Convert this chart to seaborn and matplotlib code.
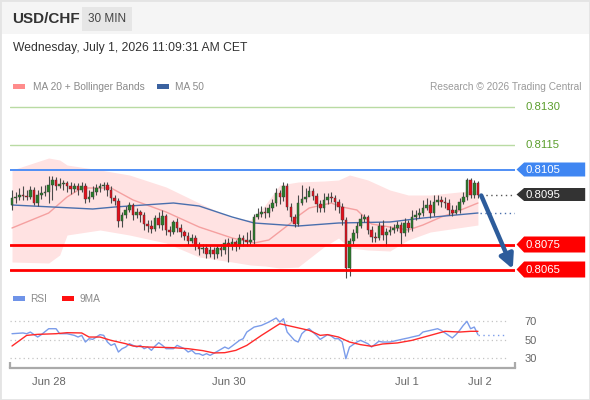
import numpy as np
import pandas as pd
import matplotlib
matplotlib.use("Agg")
import matplotlib.pyplot as plt
from matplotlib.patches import Polygon, Rectangle, FancyArrowPatch
import seaborn as sns

W, H = 590, 400

# velas de 30 min USD/CHF
first_open = 0.80908
closes = [0.80936, 0.80940, 0.80948, 0.80944, 0.80940, 0.80968, 0.80916, 0.80948, 0.80956, 0.80960,
          0.80988, 0.81008, 0.80984, 0.80992, 0.80996, 0.80984, 0.80972, 0.80984, 0.80968, 0.80984,
          0.80932, 0.80940, 0.80960, 0.80976, 0.80984, 0.80988, 0.80968, 0.80936, 0.80924, 0.80844,
          0.80868, 0.80888, 0.80908, 0.80868, 0.80880, 0.80868, 0.80832, 0.80824, 0.80812, 0.80856,
          0.80828, 0.80864, 0.80808, 0.80800, 0.80840, 0.80816, 0.80800, 0.80784, 0.80764, 0.80776,
          0.80744, 0.80732, 0.80736, 0.80712, 0.80728, 0.80712, 0.80736, 0.80728, 0.80756, 0.80744,
          0.80760, 0.80744, 0.80776, 0.80768, 0.80760, 0.80768, 0.80860, 0.80872, 0.80880, 0.80876,
          0.80896, 0.80916, 0.80956, 0.80940, 0.80984, 0.80900, 0.80860, 0.80832, 0.80916, 0.80932,
          0.80940, 0.80964, 0.80944, 0.80912, 0.80896, 0.80928, 0.80940, 0.80936, 0.80920, 0.80900,
          0.80848, 0.80656, 0.80764, 0.80796, 0.80824, 0.80852, 0.80860, 0.80808, 0.80780, 0.80776,
          0.80824, 0.80788, 0.80800, 0.80808, 0.80816, 0.80828, 0.80796, 0.80836, 0.80816, 0.80860,
          0.80868, 0.80876, 0.80896, 0.80908, 0.80876, 0.80920, 0.80928, 0.80920, 0.80916, 0.80888,
          0.80876, 0.80888, 0.80920, 0.80940, 0.81008, 0.80948, 0.80996, 0.80950]
highs = [0.80968, 0.80960, 0.80976, 0.80984, 0.80968, 0.80984, 0.80980, 0.80968, 0.80984, 0.80988,
         0.81024, 0.81024, 0.81020, 0.81016, 0.81008, 0.81004, 0.81000, 0.80996, 0.80996, 0.81000,
         0.80996, 0.80968, 0.80984, 0.80992, 0.80996, 0.81000, 0.81000, 0.80984, 0.80948, 0.80936,
         0.80880, 0.80904, 0.80920, 0.80916, 0.80896, 0.80888, 0.80880, 0.80848, 0.80848, 0.80868,
         0.80880, 0.80888, 0.80872, 0.80824, 0.80848, 0.80856, 0.80832, 0.80808, 0.80800, 0.80792,
         0.80788, 0.80760, 0.80752, 0.80752, 0.80744, 0.80740, 0.80748, 0.80752, 0.80772, 0.80776,
         0.80776, 0.80768, 0.80792, 0.80788, 0.80800, 0.80808, 0.80872, 0.80896, 0.80904, 0.80900,
         0.80912, 0.80932, 0.80976, 0.80968, 0.81000, 0.80996, 0.80916, 0.80872, 0.80948, 0.80988,
         0.80976, 0.80984, 0.80976, 0.80956, 0.80928, 0.80956, 0.80956, 0.80960, 0.80948, 0.80932,
         0.80916, 0.80860, 0.80776, 0.80812, 0.80840, 0.80872, 0.80872, 0.80868, 0.80824, 0.80800,
         0.80840, 0.80848, 0.80816, 0.80824, 0.80832, 0.80844, 0.80840, 0.80856, 0.80848, 0.80888,
         0.80888, 0.80896, 0.80928, 0.80936, 0.80928, 0.80948, 0.80948, 0.80944, 0.80940, 0.80932,
         0.80908, 0.80908, 0.80936, 0.80960, 0.81016, 0.81016, 0.81008, 0.81004]
lows = [0.80888, 0.80916, 0.80928, 0.80928, 0.80928, 0.80932, 0.80908, 0.80904, 0.80932, 0.80944,
        0.80916, 0.80928, 0.80968, 0.80976, 0.80968, 0.80960, 0.80952, 0.80960, 0.80948, 0.80960,
        0.80916, 0.80920, 0.80932, 0.80948, 0.80960, 0.80968, 0.80944, 0.80916, 0.80908, 0.80820,
        0.80820, 0.80856, 0.80880, 0.80848, 0.80856, 0.80840, 0.80808, 0.80800, 0.80796, 0.80804,
        0.80816, 0.80808, 0.80788, 0.80784, 0.80792, 0.80800, 0.80780, 0.80768, 0.80748, 0.80756,
        0.80728, 0.80708, 0.80716, 0.80696, 0.80700, 0.80692, 0.80696, 0.80704, 0.80712, 0.80680,
        0.80728, 0.80724, 0.80732, 0.80744, 0.80744, 0.80748, 0.80752, 0.80852, 0.80860, 0.80856,
        0.80860, 0.80884, 0.80904, 0.80912, 0.80924, 0.80888, 0.80844, 0.80820, 0.80824, 0.80908,
        0.80920, 0.80944, 0.80928, 0.80880, 0.80880, 0.80880, 0.80912, 0.80920, 0.80888, 0.80876,
        0.80828, 0.80616, 0.80624, 0.80752, 0.80776, 0.80816, 0.80840, 0.80792, 0.80760, 0.80760,
        0.80768, 0.80768, 0.80744, 0.80788, 0.80796, 0.80804, 0.80744, 0.80784, 0.80800, 0.80804,
        0.80848, 0.80856, 0.80864, 0.80888, 0.80856, 0.80864, 0.80908, 0.80900, 0.80896, 0.80868,
        0.80864, 0.80872, 0.80876, 0.80912, 0.80928, 0.80936, 0.80936, 0.80936]

# Bollinger (20) y medias, puntos leidos sobre el indice de vela
band_idx = [0, 10, 13, 15, 24, 32, 42, 51, 60, 65, 69, 73, 78, 85, 89, 92, 97, 103, 108, 114, 127]
band_up = [0.81048, 0.81096, 0.81088, 0.81068, 0.81048, 0.81028, 0.80980, 0.80916, 0.80856, 0.80848, 0.80908,
           0.80988, 0.81000, 0.81004, 0.81008, 0.81028, 0.81008, 0.80968, 0.80948, 0.80948, 0.80968]
band_lo = [0.80680, 0.80676, 0.80708, 0.80788, 0.80808, 0.80788, 0.80756, 0.80700, 0.80680, 0.80668, 0.80664,
           0.80656, 0.80660, 0.80740, 0.80776, 0.80736, 0.80728, 0.80724, 0.80768, 0.80800, 0.80828]
ma20_idx = [0, 10, 15, 19, 27, 33, 42, 51, 60, 66, 70, 76, 78, 81, 87, 90, 94, 98, 103, 108, 112, 117, 121, 127]
ma20 = [0.80816, 0.80876, 0.80940, 0.80976, 0.80976, 0.80928, 0.80880, 0.80820, 0.80776, 0.80756, 0.80768, 0.80836,
        0.80864, 0.80896, 0.80916, 0.80900, 0.80888, 0.80832, 0.80820, 0.80808, 0.80828, 0.80860, 0.80880, 0.80916]
ma50_idx = [0, 11, 22, 28, 44, 51, 60, 66, 78, 89, 103, 112, 121, 127]
ma50 = [0.80908, 0.80900, 0.80892, 0.80900, 0.80916, 0.80904, 0.80860, 0.80836, 0.80824, 0.80836, 0.80840,
        0.80856, 0.80868, 0.80876]

# RSI y su media de 9
rsi_idx = [0, 3, 4, 5, 7, 8, 10, 12, 13, 15, 17, 18, 19, 20, 21, 22, 24, 25, 26, 27,
           28, 29, 30, 31, 32, 34, 35, 36, 37, 38, 39, 40, 41, 42, 44, 45, 46, 47, 48, 49,
           50, 51, 52, 53, 54, 56, 58, 59, 60, 62, 63, 64, 66, 68, 70, 72, 73, 74, 75, 77,
           78, 79, 80, 81, 83, 84, 85, 86, 87, 88, 89, 90, 91, 92, 94, 95, 97, 98, 100, 101,
           103, 105, 107, 108, 109, 111, 112, 114, 116, 117, 119, 120, 121, 122, 123, 124, 125, 126, 127]
rsi_vals = [56.8, 57.6, 56.8, 58.6, 53.2, 55.8, 62.2, 62.2, 56.8, 56.8, 55.0, 53.2, 55.0, 47.8, 51.4, 50.7, 55.8, 55.0, 47.8, 44.2,
            46.0, 37.0, 40.6, 42.4, 46.0, 42.4, 44.2, 40.6, 42.4, 38.8, 43.5, 47.1, 44.2, 40.6, 40.6, 44.2, 42.4, 40.6, 37.0, 38.8,
            35.2, 35.2, 33.4, 35.2, 33.4, 37.8, 42.4, 40.6, 43.5, 49.6, 51.4, 58.6, 64.0, 65.8, 69.4, 73.8, 69.4, 73.0, 58.6, 49.6,
            47.8, 56.8, 60.4, 62.2, 55.0, 50.7, 53.2, 55.8, 54.3, 51.4, 51.4, 47.8, 29.8, 42.4, 47.8, 49.6, 46.0, 42.4, 48.6, 47.8,
            47.8, 49.6, 51.4, 52.2, 53.2, 55.0, 58.6, 60.4, 62.2, 60.4, 55.0, 52.2, 55.8, 60.4, 65.8, 70.2, 62.2, 64.0, 55.8]
rsi_ma_idx = [0, 4, 7, 12, 15, 19, 21, 24, 27, 31, 33, 37, 40, 44, 48, 52, 55, 58, 61, 64,
              68, 73, 77, 81, 84, 86, 89, 92, 95, 98, 101, 105, 109, 114, 118, 122, 125, 127]
rsi_ma = [43.5, 55.0, 56.1, 56.8, 57.9, 57.6, 53.2, 53.2, 49.6, 46.0, 43.5, 42.4, 42.1, 41.7, 40.6, 38.5, 36.0, 36.3, 38.8, 44.2,
          55.0, 67.6, 64.0, 60.4, 55.0, 55.8, 53.2, 47.8, 45.0, 43.2, 45.7, 46.8, 49.6, 55.0, 59.4, 58.6, 59.4, 59.4]

resist_levels = [0.8130, 0.8115]
pivot_level = 0.8105
last_price = 0.8095
support_levels = [0.8075, 0.8065]
target_price = 0.80652
day_pos = [10, 59, 107.5, 127.5]
day_labels = ['Jun 28', 'Jun 30', 'Jul 1', 'Jul 2']
rsi_ticks = [30, 50, 70]

sns.set_theme(style="white")
plt.rcParams['font.family'] = ['Liberation Sans', 'DejaVu Sans']

fig = plt.figure(figsize=(W / 100, H / 100), dpi=100)


def fx(x):
    return x / W


def fy(y):
    return 1 - y / H


def box(x0, y0, x1, y1, color, **kw):
    fig.patches.append(Rectangle((fx(x0), fy(y1)), fx(x1 - x0), (y1 - y0) / H,
                                 transform=fig.transFigure, facecolor=color, edgecolor='none', **kw))


# cabecera
box(0, 0, W, 34, '#f5f5f5')
fig.patches.append(Rectangle((0, 0), 1, 1, transform=fig.transFigure, fill=False,
                             edgecolor='#e4e4e4', lw=2))
box(82, 7, 132, 31, '#e6e6e6')
fig.text(fx(12), fy(19), 'USD/CHF', fontsize=11, fontweight='bold', color='#333333', va='center')
fig.text(fx(107), fy(19), '30 MIN', fontsize=8.5, color='#444444', va='center', ha='center')
fig.text(fx(13), fy(48), 'Wednesday, July 1, 2026 11:09:31 AM CET', fontsize=8.7, color='#333333', va='center')

# leyendas
box(13, 84, 25, 89, '#ff8c8c')
fig.text(fx(33), fy(86.5), 'MA 20 + Bollinger Bands', fontsize=7.25, color='#8a8a8a', va='center')
box(157, 84, 169, 89, '#3b62a0')
fig.text(fx(175), fy(86.5), 'MA 50', fontsize=7.25, color='#8a8a8a', va='center')
fig.text(fx(581), fy(86.5), 'Research \u00a9 2026 Trading Central', fontsize=7.25, color='#9a9a9a',
         va='center', ha='right')
box(13, 296, 25, 301, '#6f93e8')
fig.text(fx(30), fy(298.5), 'RSI', fontsize=7.25, color='#8a8a8a', va='center')
box(62, 296, 74, 301, '#ff1010')
fig.text(fx(80), fy(298.5), '9MA', fontsize=7.25, color='#8a8a8a', va='center')

# panel de precios
x_left, x_right = -0.545, 137.1
ax = fig.add_axes([fx(10), 1 - 282 / H, fx(505), 184 / H])
ax.set_xlim(x_left, x_right)
ax.set_ylim(0.80600, 0.81336)
ax.axis('off')

df = pd.DataFrame({'close': closes, 'high': highs, 'low': lows})
df['open'] = [first_open] + closes[:-1]
df['idx'] = np.arange(len(df))
up = df['close'] >= df['open']

ax.fill_between(band_idx, band_lo, band_up, color='#ffe2e2', lw=0, zorder=1)
sns.lineplot(x=ma20_idx, y=ma20, ax=ax, color='#f5a0a0', lw=1, zorder=2)
sns.lineplot(x=ma50_idx, y=ma50, ax=ax, color='#4a6fad', lw=1, zorder=2)
ax.hlines(ma50[-1], ma50_idx[-1] + 0.5, x_right, color='#4a6fad', lw=1, linestyles=(0, (1, 2.5)), zorder=2)

for lv in resist_levels:
    ax.axhline(lv, color='#b9dba3', lw=1, zorder=1.5)
ax.axhline(pivot_level, color='#4f8ef5', lw=1.4, zorder=1.5)
for lv in support_levels:
    ax.axhline(lv, color='#ff0000', lw=2, zorder=5)
ax.hlines(last_price, len(df) - 0.3, x_right, color='#555555', lw=1, linestyles=(0, (1, 2.5)), zorder=2)

ax.vlines(df['idx'], df['low'], df['high'], color='#4a4a4a', lw=0.8, zorder=3)
body = (df['close'] - df['open']).abs().clip(lower=0.00002)
ax.bar(df['idx'], body, bottom=df[['open', 'close']].min(axis=1), width=0.72,
       color=np.where(up, '#2a7d2a', '#e3101c'), edgecolor='#3a3a3a', linewidth=0.3, zorder=4)

ax.add_patch(FancyArrowPatch((127.9, last_price - 0.00004), (136.5, target_price),
                             arrowstyle='-|>', mutation_scale=21, lw=3.2, color='#2d5c9b',
                             shrinkA=0, shrinkB=0, zorder=6, clip_on=False))

tr = ax.get_yaxis_transform()


def tag(price, color, text, hh=0.00030):
    pts = [(1.003, price), (1.018, price + hh), (1.139, price + hh), (1.139, price - hh), (1.018, price - hh)]
    ax.add_patch(Polygon(pts, closed=True, transform=tr, facecolor=color, edgecolor='none', clip_on=False))
    ax.text(1.021, price, text, transform=tr, color='white', fontsize=8.2, va='center', ha='left', clip_on=False)


for lv in resist_levels:
    ax.text(1.021, lv, f'{lv:.4f}', transform=tr, color='#5b9e2c', fontsize=8.2, va='center', ha='left')
tag(pivot_level, '#3f86f2', f'{pivot_level:.4f}', 0.00028)
tag(last_price, '#333333', f'{last_price:.4f}', 0.00026)
for lv in support_levels:
    tag(lv, '#ff0000', f'{lv:.4f}', 0.00032)

# panel RSI
ax2 = fig.add_axes([fx(10), 32 / H, fx(505), 58 / H])
ax2.set_xlim(x_left, x_right)
ax2.set_ylim(19.73, 82.43)
for s in ['top', 'left', 'right']:
    ax2.spines[s].set_visible(False)
ax2.spines['bottom'].set_color('#aaaaaa')
ax2.spines['bottom'].set_linewidth(1.6)
for xe in [0, 1]:
    ax2.plot([xe, xe], [0, 0.11], transform=ax2.transAxes, color='#aaaaaa', lw=1.6,
             clip_on=False, solid_capstyle='butt')
ax2.hlines(rsi_ticks, x_left, 134.6, color='#c4c4c4', lw=0.9, linestyles=(0, (1, 2.5)))
sns.lineplot(x=rsi_idx, y=rsi_vals, ax=ax2, color='#7b9cea', lw=1)
sns.lineplot(x=rsi_ma_idx, y=rsi_ma, ax=ax2, color='#ff2a2a', lw=1)
ax2.hlines(rsi_vals[-1], rsi_idx[-1], 134.6, color='#7b9cea', lw=1, linestyles=(0, (1, 2.5)))

ax2.set_xticks(day_pos)
ax2.set_xticklabels(day_labels)
ax2.yaxis.tick_right()
ax2.set_yticks(rsi_ticks)
ax2.tick_params(axis='both', length=0, labelsize=8, labelcolor='#666666')
ax2.tick_params(axis='x', pad=6.5)
ax2.tick_params(axis='y', pad=7)
ax2.set_xlabel('')
ax2.set_ylabel('')

fig.savefig('out.png', dpi=100)
